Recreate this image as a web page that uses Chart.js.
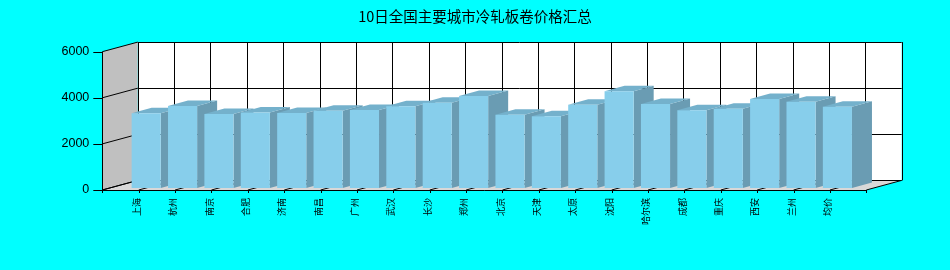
<!DOCTYPE html>
<html>
<head>
<meta charset="utf-8">
<script src="https://cdn.jsdelivr.net/npm/chart.js@4.4.0/dist/chart.umd.min.js"></script>
<style>
  html, body { margin: 0; padding: 0; background: #00ffff; }
  #c { display: block; }
</style>
</head>
<body>
<canvas id="c" width="950" height="270"></canvas>
<script>
// 数据
const title = "10日全国主要城市冷轧板卷价格汇总";
const cities = ["上海", "杭州", "南京", "合肥", "济南", "南昌", "广州", "武汉", "长沙", "郑州",
                "北京", "天津", "太原", "沈阳", "哈尔滨", "成都", "重庆", "西安", "兰州", "均价"];
const prices = [3240, 3560, 3210, 3280, 3250, 3350, 3380, 3545, 3700, 3995,
                3180, 3110, 3615, 4200, 3645, 3370, 3440, 3865, 3745, 3530];
const yTicks = [0, 2000, 4000, 6000];

// 伪 3D：柱子正面所在平面 → 前墙，前墙 → 后墙，柱子厚度
const FRONT = { dx: -7.5, dy: 2 };
const DEPTH = { dx: 35.4, dy: -9.6 };
const BAR_D = { dx: 20, dy: -5.5 };

const crisp = (v) => Math.round(v) + 0.5;

function line(ctx, x1, y1, x2, y2) {
  ctx.beginPath();
  ctx.moveTo(x1, y1);
  ctx.lineTo(x2, y2);
  ctx.stroke();
}

function poly(ctx, pts, fill) {
  ctx.beginPath();
  pts.forEach(([px, py], i) => (i ? ctx.lineTo(px, py) : ctx.moveTo(px, py)));
  ctx.closePath();
  ctx.fillStyle = fill;
  ctx.fill();
}

const box3d = {
  id: "box3d",
  beforeDatasetsDraw(chart) {
    const { ctx, scales: { x, y } } = chart;
    const n = cities.length;
    const c0 = x.getPixelForValue(0);
    const slot = x.getPixelForValue(1) - c0;
    const fx = (k) => c0 + (k - 1) * slot + FRONT.dx;   // 前墙刻度 k = 0..n+1
    const fy = (v) => y.getPixelForValue(v) + FRONT.dy;
    const L = fx(0), R = fx(n + 1);
    const top = fy(yTicks[yTicks.length - 1]), bot = fy(0);

    ctx.save();
    // 后墙
    poly(ctx, [[L + DEPTH.dx, top + DEPTH.dy], [R + DEPTH.dx, top + DEPTH.dy],
               [R + DEPTH.dx, bot + DEPTH.dy], [L + DEPTH.dx, bot + DEPTH.dy]], "#ffffff");
    // 左墙
    poly(ctx, [[L, top], [L + DEPTH.dx, top + DEPTH.dy], [L + DEPTH.dx, bot + DEPTH.dy], [L, bot]], "#c0c0c0");
    // 底面
    poly(ctx, [[L, bot], [R, bot], [R + DEPTH.dx, bot + DEPTH.dy], [L + DEPTH.dx, bot + DEPTH.dy]], "#d8d8d8");

    ctx.strokeStyle = "#000";
    ctx.lineWidth = 1;
    // 后墙网格 + 左墙斜线
    yTicks.forEach((v) => {
      const yy = crisp(fy(v) + DEPTH.dy);
      line(ctx, L + DEPTH.dx, yy, R + DEPTH.dx, yy);
      line(ctx, L, fy(v), L + DEPTH.dx, fy(v) + DEPTH.dy);
    });
    for (let k = 0; k <= n + 1; k++) {
      const xx = crisp(fx(k) + DEPTH.dx);
      line(ctx, xx, top + DEPTH.dy, xx, bot + DEPTH.dy);
      line(ctx, fx(k), bot, fx(k) + DEPTH.dx, bot + DEPTH.dy);   // 底面进深线
    }
    // 前轴线与刻度
    line(ctx, crisp(L), top, crisp(L), bot);
    line(ctx, L, crisp(bot), R, crisp(bot));
    yTicks.forEach((v) => line(ctx, L - 9, crisp(fy(v)), L, crisp(fy(v))));
    for (let k = 0; k <= n + 1; k++) line(ctx, crisp(fx(k)), bot, crisp(fx(k)), bot + 3);

    // 柱子侧面和顶面（正面由 Chart.js 画）
    chart.getDatasetMeta(0).data.forEach((bar) => {
      const { x: bx, y: by, base, width } = bar.getProps(["x", "y", "base", "width"], true);
      const l = bx - width / 2, r = bx + width / 2;
      poly(ctx, [[r, by], [r + BAR_D.dx, by + BAR_D.dy], [r + BAR_D.dx, base + BAR_D.dy], [r, base]], "#6a9cb3");
      poly(ctx, [[l, by], [l + BAR_D.dx, by + BAR_D.dy], [r + BAR_D.dx, by + BAR_D.dy], [r, by]], "#74b1cc");
    });
    ctx.restore();
  },
};

new Chart(document.getElementById("c"), {
  type: "bar",
  data: {
    labels: cities,
    datasets: [{ data: prices, backgroundColor: "#87ceeb", borderWidth: 0, barPercentage: 0.8, categoryPercentage: 1 }],
  },
  options: {
    responsive: false,
    animation: false,
    layout: { padding: 0 },
    plugins: {
      legend: { display: false },
      tooltip: { enabled: false },
      title: {
        display: true,
        text: title,
        color: "#000",
        font: { family: "'Noto Sans CJK SC', sans-serif", size: 14.5, weight: "normal" },
        padding: { top: 8, bottom: 24.3 },
      },
    },
    scales: {
      x: {
        offset: true,
        grid: { display: false, drawTicks: false },
        border: { display: false },
        ticks: {
          autoSkip: false, maxRotation: 90, minRotation: 90, padding: 10, labelOffset: -9.8,
          color: "#000", font: { family: "'Noto Sans CJK SC', sans-serif", size: 9 },
        },
        afterFit(s) { s.height = 82; },
      },
      y: {
        min: 0, max: 6000,
        grid: { display: false, drawTicks: false },
        border: { display: false },
        ticks: {
          stepSize: 2000, padding: 38.7, labelOffset: 2,
          callback: (v) => String(v),
          color: "#000", font: { family: "'Liberation Sans', Arial, sans-serif", size: 12.5 },
        },
        afterFit(s) { s.width = 128; },
      },
      // 右侧留白（给 3D 后墙让位）
      yRight: {
        position: "right",
        grid: { display: false, drawTicks: false },
        border: { display: false },
        ticks: { display: false },
        afterFit(s) { s.width = 94.4; },
      },
    },
  },
  plugins: [box3d],
});
</script>
</body>
</html>
